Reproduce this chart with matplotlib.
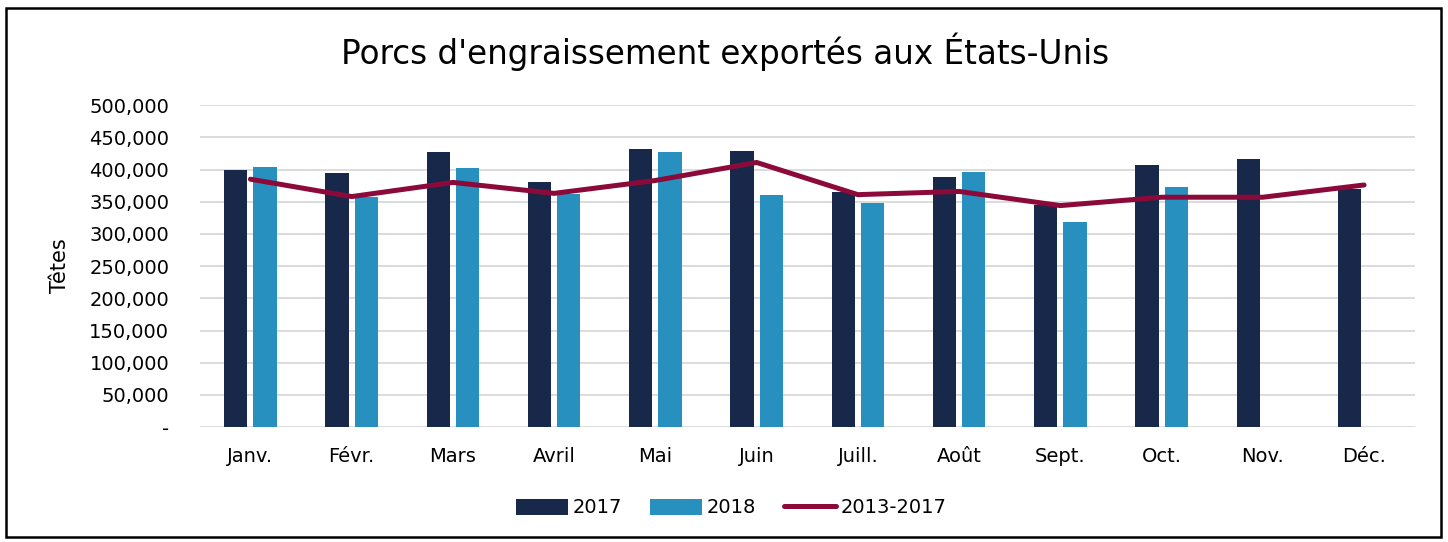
import numpy as np
import matplotlib
matplotlib.use('Agg')
from matplotlib import pyplot as plt
from matplotlib.patches import Rectangle
from matplotlib.ticker import FuncFormatter

months = ['Janv.', 'Févr.', 'Mars', 'Avril', 'Mai', 'Juin',
          'Juill.', 'Août', 'Sept.', 'Oct.', 'Nov.', 'Déc.']
exports_2017 = [400000, 395000, 428000, 381000, 432000, 429000,
                365000, 388000, 345000, 407000, 416000, 369000]
exports_2018 = [403500, 358000, 402000, 362000, 427000, 360000,
                348000, 396000, 318000, 373000]
avg_2013_2017 = [385000, 358000, 380000, 363000, 383000, 411000,
                 361000, 366000, 344000, 357000, 357000, 376000]

COLOR_2017 = '#17284a'
COLOR_2018 = '#2790bf'
COLOR_AVG = '#8b0a3a'


def _y_format(value, _pos):
    if value == 0:
        return '-'
    return f'{value:,.0f}'


def plot_exports():
    plt.rcParams['font.family'] = ['DejaVu Sans']
    fig = plt.figure(figsize=(14.48, 5.42), dpi=100)
    ax = fig.add_axes([0.138, 0.212, 0.839, 0.594])

    x = np.arange(len(months))
    width = 0.23
    ax.bar(x[:len(exports_2017)] - 0.145, exports_2017, width, color=COLOR_2017, label='2017', zorder=2)
    ax.bar(x[:len(exports_2018)] + 0.145, exports_2018, width, color=COLOR_2018, label='2018', zorder=2)
    ax.plot(x[:len(avg_2013_2017)], avg_2013_2017, color=COLOR_AVG, linewidth=3.6,
            solid_capstyle='round', label='2013-2017', zorder=3)

    ax.set_xlim(-0.5, len(months) - 0.5)
    ax.set_ylim(0, 500000)
    ax.set_yticks(np.arange(0, 500001, 50000))
    ax.yaxis.set_major_formatter(FuncFormatter(_y_format))
    ax.set_xticks(x)
    ax.set_xticklabels(months)
    ax.tick_params(axis='both', length=0, labelsize=14)
    ax.tick_params(axis='y', pad=22)
    ax.tick_params(axis='x', pad=14)
    ax.grid(axis='y', color='#d9d9d9', linewidth=1.3, zorder=0)
    ax.set_axisbelow(True)
    for spine in ax.spines.values():
        spine.set_visible(False)

    ax.set_ylabel('Têtes', fontsize=15, labelpad=14)
    fig.text(0.501, 0.905, "Porcs d'engraissement exportés aux États-Unis",
             ha='center', va='center', fontsize=23.5)

    handles, labels = ax.get_legend_handles_labels()
    order = [labels.index('2017'), labels.index('2018'), labels.index('2013-2017')]
    fig.legend([handles[i] for i in order], [labels[i] for i in order],
               loc='center', bbox_to_anchor=(0.505, 0.063), ncol=3, frameon=False,
               fontsize=14, handlelength=2.7, handleheight=0.9, columnspacing=1.4,
               handletextpad=0.25)

    fig.patches.append(Rectangle((0.004, 0.009), 0.991, 0.976, transform=fig.transFigure,
                                 fill=False, edgecolor='black', linewidth=1.8))

    fig.savefig('out.png', dpi=100)


if __name__ == '__main__':
    plot_exports()
